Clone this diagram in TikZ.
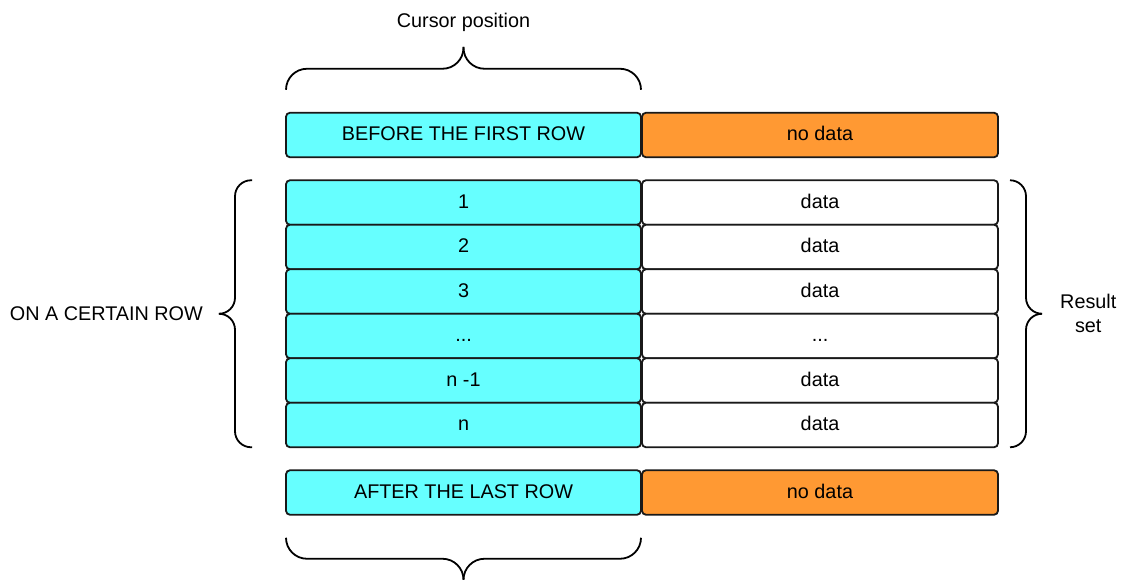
\documentclass[tikz,border=0pt]{standalone}
\usepackage{fontspec}
\setmainfont{Liberation Sans}
\usepackage{xcolor}
\usepackage{tikz}
\usetikzlibrary{positioning, calc}

\definecolor{cursorcyan}{HTML}{66FFFF}
\definecolor{nodataorange}{HTML}{FF9933}

\begin{document}
\begin{tikzpicture}[
    x=1pt, y=1pt,
    font=\fontsize{19.8}{24}\selectfont,
    rowbox/.style={rectangle, draw=black!90, line width=1.8pt, rounded corners=4pt, outer sep=0pt, inner sep=0pt, minimum height=44.5pt, text height=11.5pt, text depth=0pt},
    posbox/.style={rowbox, fill=cursorcyan, minimum width=355pt},
    databox/.style={rowbox, fill=white, minimum width=356pt},
    emptybox/.style={rowbox, fill=nodataorange, minimum width=356pt},
    bracket/.style={line width=1.8pt, rounded corners=#1},
    lbl/.style={inner sep=0pt, align=center}
]

\useasboundingbox (0,0) rectangle (1121,-579);

\node[posbox] (before) at (463.5,-135) {BEFORE THE FIRST ROW};
\node[emptybox, right=1pt of before] (before_nd) {no data};

\node[posbox, below=23pt of before] (row1) {1};
\node[databox, right=1pt of row1] (data1) {data};
\node[posbox, below=0pt of row1] (row2) {2};
\node[databox, right=1pt of row2] (data2) {data};
\node[posbox, below=0pt of row2] (row3) {3};
\node[databox, right=1pt of row3] (data3) {data};
\node[posbox, below=0pt of row3] (rowdots) {...};
\node[databox, right=1pt of rowdots] (datadots) {...};
\node[posbox, below=0pt of rowdots] (rowm) {n -1};
\node[databox, right=1pt of rowm] (datam) {data};
\node[posbox, below=0pt of rowm] (rown) {n};
\node[databox, right=1pt of rown] (datan) {data};

\node[posbox, below=23pt of rown] (after) {AFTER THE LAST ROW};
\node[emptybox, right=1pt of after] (after_nd) {no data};

\coordinate (toptip) at ([yshift=66pt]before.north);
\coordinate (bottip) at ([yshift=-65pt]after.south);
\coordinate (lmid) at ($(row1.north west)!0.5!(rown.south west)$);
\coordinate (ltip) at ([xshift=-66pt]lmid);
\coordinate (rmid) at ($(data1.north east)!0.5!(datan.south east)$);
\coordinate (rtip) at ([xshift=44pt]rmid);

\draw[bracket=21pt] ([yshift=23pt]before.north west) |- ([yshift=44pt]before.north) -- (toptip);
\draw[bracket=21pt] ([yshift=23pt]before.north east) |- ([yshift=44pt]before.north) -- (toptip);
\draw[bracket=21pt] ([yshift=-23pt]after.south west) |- ([yshift=-44pt]after.south) -- (bottip);
\draw[bracket=21pt] ([yshift=-23pt]after.south east) |- ([yshift=-44pt]after.south) -- (bottip);
\draw[bracket=16pt] ([xshift=-34pt]row1.north west) -| ([xshift=-51pt]lmid) -- (ltip);
\draw[bracket=16pt] ([xshift=-34pt]rown.south west) -| ([xshift=-51pt]lmid) -- (ltip);
\draw[bracket=16pt] ([xshift=12pt]data1.north east) -| ([xshift=28pt]rmid) -- (rtip);
\draw[bracket=16pt] ([xshift=12pt]datan.south east) -| ([xshift=28pt]rmid) -- (rtip);

\node[lbl, above=15pt of toptip] (cursorlbl) {Cursor position};
\node[lbl, left=17pt of ltip] (onrowlbl) {ON A CERTAIN ROW};
\node[lbl, right=18pt of rtip] (resultlbl) {Result\\set};

\end{tikzpicture}
\end{document}
